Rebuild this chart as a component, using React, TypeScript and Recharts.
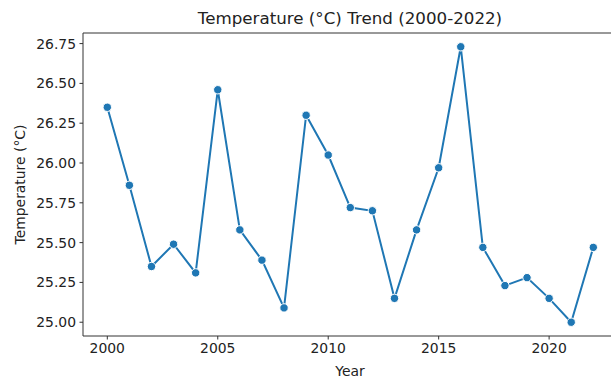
import { LineChart, Line, XAxis, YAxis, ReferenceLine } from 'recharts';

const YEARS = [2000, 2001, 2002, 2003, 2004, 2005, 2006, 2007, 2008, 2009, 2010, 2011,
  2012, 2013, 2014, 2015, 2016, 2017, 2018, 2019, 2020, 2021, 2022];
const TEMPS = [26.35, 25.86, 25.35, 25.49, 25.31, 26.46, 25.58, 25.39, 25.09, 26.30, 26.05, 25.72,
  25.70, 25.15, 25.58, 25.97, 26.73, 25.47, 25.23, 25.28, 25.15, 25.00, 25.47];
const X_TICKS = [2000, 2005, 2010, 2015, 2020];
const Y_TICKS = [25.0, 25.25, 25.5, 25.75, 26.0, 26.25, 26.5, 26.75];

const data = YEARS.map((year, i) => ({ year, temp: TEMPS[i] }));

// matplotlib-style 5% margins
const xMin = YEARS[0], xMax = YEARS[YEARS.length - 1];
const tMin = Math.min(...TEMPS), tMax = Math.max(...TEMPS);
const xPad = (xMax - xMin) * 0.05;
const yPad = (tMax - tMin) * 0.05;
const X_DOMAIN = [xMin - xPad, xMax + xPad];
const Y_DOMAIN = [tMin - yPad, tMax + yPad];

const FONT = '"DejaVu Sans", sans-serif';
const BLUE = '#1f77b4';
const SPINE = '#333';

const W = 626, H = 378;

export default function App() {
  return (
    <div style={{ position: 'absolute', left: 0, top: 0, width: 611, height: 378, overflow: 'hidden', background: '#fff' }}>
      <LineChart width={W} height={H} data={data} margin={{ top: 33, right: 8.4, bottom: 0, left: 0 }}>
        <XAxis
          dataKey="year"
          type="number"
          domain={X_DOMAIN}
          ticks={X_TICKS}
          allowDataOverflow
          height={42}
          tickSize={3.5}
          tickMargin={4}
          stroke={SPINE}
          tick={{ fontSize: 13.9, fill: '#222', fontFamily: FONT }}
        />
        <YAxis
          type="number"
          domain={Y_DOMAIN}
          ticks={Y_TICKS}
          allowDataOverflow
          width={83}
          tickSize={3.5}
          tickMargin={3.5}
          stroke={SPINE}
          tickFormatter={(v: number) => v.toFixed(2)}
          tick={{ fontSize: 13.9, fill: '#222', fontFamily: FONT }}
        />
        <ReferenceLine y={Y_DOMAIN[1]} stroke={SPINE} strokeWidth={1} />
        <Line
          dataKey="temp"
          stroke={BLUE}
          strokeWidth={2}
          dot={{ r: 4.2, fill: BLUE, stroke: '#fff', strokeWidth: 1 }}
          activeDot={false}
          isAnimationActive={false}
        />
        <text x={350} y={18} textAnchor="middle" dominantBaseline="central" fontSize={16.7} fontFamily={FONT} fill="#222">
          Temperature (°C) Trend (2000-2022)
        </text>
        <text x={350} y={371} textAnchor="middle" dominantBaseline="central" fontSize={13.9} fontFamily={FONT} fill="#222">
          Year
        </text>
        <text x={20} y={184.5} textAnchor="middle" dominantBaseline="central" fontSize={13.9} fontFamily={FONT} fill="#222"
          transform="rotate(-90 20 184.5)">
          Temperature (°C)
        </text>
      </LineChart>
    </div>
  );
}
